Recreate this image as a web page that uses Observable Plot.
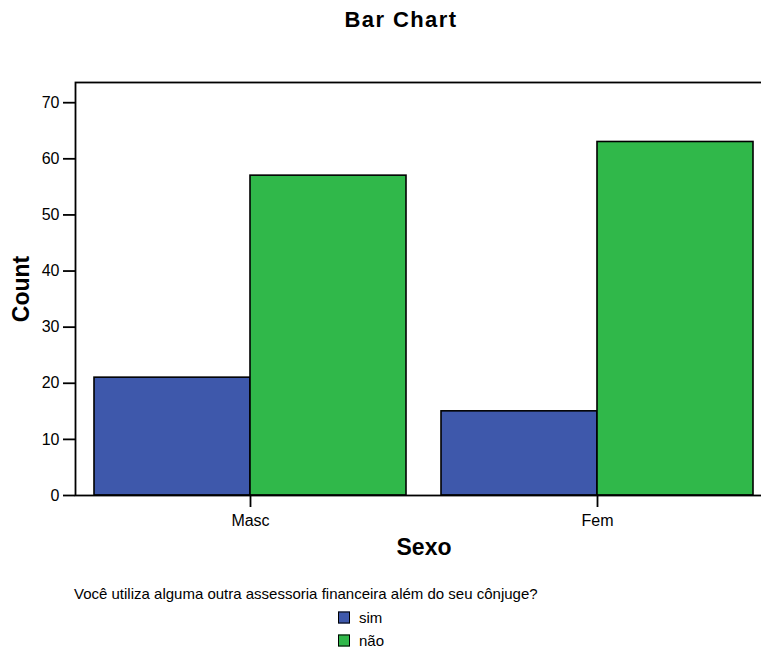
<!DOCTYPE html>
<html>
<head>
<meta charset="utf-8">
<script src="https://cdn.jsdelivr.net/npm/d3@7"></script>
<script src="https://cdn.jsdelivr.net/npm/@observablehq/plot@0.6"></script>
<style>
  html, body { margin: 0; padding: 0; background: #fff; }
  body { font-family: "Liberation Sans", Arial, Helvetica, sans-serif; color: #000; }
  #wrap { width: 761px; height: 651px; position: relative; overflow: hidden; }
  #title { height: 60px; position: relative; }
  #title span { position: absolute; left: 401px; top: 20px; transform: translate(-50%, -50%); font-weight: bold; font-size: 22px; letter-spacing: 1.4px; white-space: nowrap; }
  #legend { position: relative; height: 81px; font-size: 15px; }
  #legend .ttl { position: absolute; left: 74px; top: 23px; transform: translateY(-50%); white-space: nowrap; }
  #legend .item { position: absolute; left: 338px; transform: translateY(-50%); display: flex; align-items: center; white-space: nowrap; }
  #legend .sw { width: 10px; height: 10px; border: 1.5px solid #000; margin-right: 9px; }
</style>
</head>
<body>
<div id="wrap">
  <div id="title"><span>Bar Chart</span></div>
  <div id="chart"></div>
  <div id="legend"></div>
</div>
<script>
const sexo = ["Masc", "Fem"];
const respostas = ["sim", "não"];
const simCounts = [21, 15];
const naoCounts = [57, 63];
const yTicks = [0, 10, 20, 30, 40, 50, 60, 70];
const colors = ["#3e58ab", "#30b84a"];
const legendTitle = "Você utiliza alguma outra assessoria financeira além do seu cônjuge?";

const data = [];
sexo.forEach((s, i) => {
  data.push({sexo: s, resp: respostas[0], count: simCounts[i]});
  data.push({sexo: s, resp: respostas[1], count: naoCounts[i]});
});

function build(half) {
  return Plot.plot({
    width: 761,
    height: 510,
    marginTop: 22,
    marginBottom: 75,
    marginLeft: 75,
    marginRight: -11,
    style: {fontFamily: "Liberation Sans, Arial, sans-serif", fontSize: "16px", color: "#000", background: "#fff"},
    x: {domain: sexo, paddingInner: 0.1, paddingOuter: 0.0517, label: null},
    y: {domain: [0, 73.6], label: null},
    color: {domain: respostas, range: colors},
    marks: [
      Plot.barY(data.filter(d => d.resp === respostas[0]), {
        x: "sexo", y: "count", fill: "resp", insetRight: half,
        stroke: "#000", strokeWidth: 1.6
      }),
      Plot.barY(data.filter(d => d.resp === respostas[1]), {
        x: "sexo", y: "count", fill: "resp", insetLeft: half,
        stroke: "#000", strokeWidth: 1.6
      }),
      Plot.frame({stroke: "#000", strokeWidth: 1.8}),
      Plot.axisY({ticks: yTicks, tickSize: 12, tickPadding: 4, fontSize: 16, strokeWidth: 1.8, label: null}),
      Plot.axisX({tickSize: 12, tickPadding: 7, fontSize: 16, strokeWidth: 1.8, label: null}),
      Plot.text(["Sexo"], {frameAnchor: "bottom", lineAnchor: "middle", textAnchor: "middle", dy: 52, fontSize: 23, fontWeight: "bold", text: d => d}),
      Plot.text(["Count"], {frameAnchor: "left", lineAnchor: "middle", textAnchor: "middle", dx: -54, rotate: -90, fontSize: 23, fontWeight: "bold", text: d => d})
    ]
  });
}

let p = build(0);
const bw = p.scale("x").bandwidth;
p = build(bw / 2);
document.getElementById("chart").appendChild(p);

const leg = document.getElementById("legend");
const t = document.createElement("div");
t.className = "ttl";
t.textContent = legendTitle;
leg.appendChild(t);
respostas.forEach((r, i) => {
  const it = document.createElement("div");
  it.className = "item";
  it.style.top = (47 + i * 23) + "px";
  const sw = document.createElement("div");
  sw.className = "sw";
  sw.style.background = colors[i];
  const lb = document.createElement("span");
  lb.textContent = r;
  it.appendChild(sw);
  it.appendChild(lb);
  leg.appendChild(it);
});
</script>
</body>
</html>
